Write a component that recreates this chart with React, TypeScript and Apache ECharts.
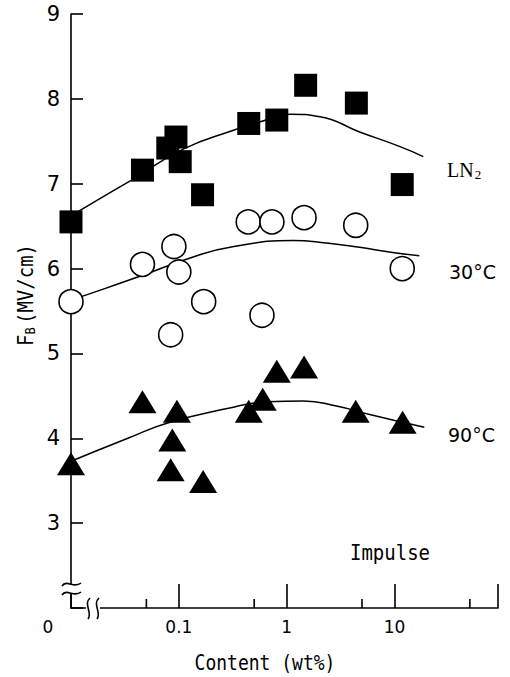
import React, { useEffect, useRef } from "react";
import * as echarts from "echarts";

// x values are content in wt% (0 is drawn on the broken part of the axis)
const ln2Content = [0, 0.046, 0.079, 0.094, 0.103, 0.166, 0.445, 0.81, 1.5, 4.43, 11.8];
const ln2Values = [6.55, 7.16, 7.42, 7.55, 7.26, 6.87, 7.71, 7.75, 8.16, 7.95, 6.99];

const c30Content = [0, 0.046, 0.084, 0.09, 0.1, 0.17, 0.44, 0.59, 0.73, 1.45, 4.37, 11.8];
const c30Values = [5.61, 6.05, 5.22, 6.26, 5.96, 5.61, 6.55, 5.45, 6.55, 6.6, 6.51, 6.0];

const c90Content = [0, 0.046, 0.084, 0.087, 0.096, 0.168, 0.445, 0.6, 0.81, 1.45, 4.37, 11.9];
const c90Values = [3.7, 4.43, 3.63, 3.98, 4.32, 3.49, 4.32, 4.46, 4.79, 4.84, 4.32, 4.19];

// fitted curves
const ln2FitContent = [0, 0.0139, 0.0361, 0.111, 0.321, 0.57, 1.08, 2.04, 4.75, 11.1, 18.5];
const ln2FitValues = [6.62, 6.73, 7.04, 7.41, 7.63, 7.73, 7.82, 7.79, 7.61, 7.44, 7.32];

const c30FitContent = [0, 0.0139, 0.0416, 0.138, 0.324, 1.15, 2.34, 4.75, 9.6, 17.0];
const c30FitValues = [5.63, 5.69, 5.9, 6.14, 6.26, 6.33, 6.3, 6.25, 6.19, 6.15];

const c90FitContent = [0, 0.0337, 0.0787, 0.281, 0.658, 1.43, 2.9, 5.89, 11.9, 18.9];
const c90FitValues = [3.73, 4.0, 4.18, 4.35, 4.43, 4.44, 4.38, 4.28, 4.19, 4.13];

const minorTicks = [0.05, 0.5, 5, 50];
const xTickLabels: Record<string, string> = { "-2": "{z|0}", "-1": "0.1", "0": "1", "1": "10" };

const toU = (c: number) => (c === 0 ? -2 : Math.log10(c));
const pairs = (xs: number[], ys: number[]) => xs.map((x, i) => [toU(x), ys[i]]);

export default function App() {
  const ref = useRef<HTMLDivElement>(null);
  useEffect(() => {
    document.body.style.margin = "0";
    const chart = echarts.init(ref.current!, null, { renderer: "svg" });
    const lineStyle = { color: "#000", width: 1.5 };
    const option: any = {
      animation: false,
      backgroundColor: "#fff",
      grid: { left: 71, top: 14, width: 427, height: 594 },
      xAxis: {
        type: "value",
        min: -2,
        max: 1.96,
        interval: 1,
        splitLine: { show: false },
        axisLine: { onZero: false, lineStyle: { color: "#000", width: 1.6 } },
        axisTick: { inside: true, length: 24, lineStyle: { color: "#000", width: 1.6 } },
        axisLabel: {
          color: "#000",
          fontFamily: "DejaVu Sans",
          fontSize: 17,
          margin: 10,
          formatter: (v: number) => xTickLabels[String(v)] ?? "",
          rich: { z: { fontFamily: "DejaVu Sans", fontSize: 17, color: "#000", padding: [0, 46, 0, 0] } },
        },
      },
      yAxis: {
        type: "value",
        min: 2,
        max: 9,
        interval: 1,
        splitLine: { show: false },
        axisLine: { onZero: false, lineStyle: { color: "#000", width: 1.6 } },
        axisTick: { inside: true, length: 12, lineStyle: { color: "#000", width: 1.6 } },
        axisLabel: {
          color: "#000",
          fontFamily: "DejaVu Sans",
          fontSize: 21,
          margin: 11,
          formatter: (v: number) => (v === 2 ? "" : String(v)),
        },
      },
      series: [
        { type: "line", data: pairs(ln2FitContent, ln2FitValues), smooth: true, showSymbol: false, lineStyle, z: 1 },
        { type: "line", data: pairs(c30FitContent, c30FitValues), smooth: true, showSymbol: false, lineStyle, z: 1 },
        { type: "line", data: pairs(c90FitContent, c90FitValues), smooth: true, showSymbol: false, lineStyle, z: 1 },
        {
          type: "scatter",
          data: pairs(ln2Content, ln2Values),
          symbol: "rect",
          symbolSize: 23,
          itemStyle: { color: "#000", opacity: 1 },
          z: 3,
        },
        {
          type: "scatter",
          data: pairs(c30Content, c30Values),
          symbol: "circle",
          symbolSize: 24,
          itemStyle: { color: "#fff", borderColor: "#000", borderWidth: 1.6, opacity: 1 },
          z: 3,
        },
        {
          type: "scatter",
          data: pairs(c90Content, c90Values),
          symbol: "triangle",
          symbolSize: [28, 23],
          itemStyle: { color: "#000", opacity: 1 },
          z: 3,
        },
        {
          type: "custom",
          data: minorTicks.map((m) => [Math.log10(m), 2]),
          clip: false,
          z: 2,
          renderItem: (_p: any, api: any) => {
            const p = api.coord([api.value(0), api.value(1)]);
            return {
              type: "line",
              shape: { x1: p[0], y1: p[1], x2: p[0], y2: p[1] - 9 },
              style: { stroke: "#000", lineWidth: 1.6 },
            };
          },
        },
      ],
    };
    chart.setOption(option);
    const o = chart.convertToPixel({ gridIndex: 0 }, [-2, 2]) as number[];
    const ox = o[0];
    const oy = o[1];
    const stroke = { stroke: "#000", lineWidth: 1.6, fill: null };
    chart.setOption({
      graphic: [
        // cover gaps for axis breaks
        { type: "rect", shape: { x: ox - 5, y: oy - 23, width: 10, height: 8 }, style: { fill: "#fff" }, z: 50 },
        { type: "rect", shape: { x: ox + 15, y: oy - 5, width: 14, height: 10 }, style: { fill: "#fff" }, z: 50 },
        {
          type: "bezierCurve",
          shape: { x1: ox - 9, y1: oy - 22, cpx1: ox - 4, cpy1: oy - 29, cpx2: ox + 3, cpy2: oy - 19, x2: ox + 10, y2: oy - 25 },
          style: stroke,
          z: 51,
        },
        {
          type: "bezierCurve",
          shape: { x1: ox - 9, y1: oy - 13, cpx1: ox - 4, cpy1: oy - 20, cpx2: ox + 3, cpy2: oy - 10, x2: ox + 10, y2: oy - 16 },
          style: stroke,
          z: 51,
        },
        {
          type: "bezierCurve",
          shape: { x1: ox + 19, y1: oy - 10, cpx1: ox + 12, cpy1: oy - 4, cpx2: ox + 22, cpy2: oy + 5, x2: ox + 17, y2: oy + 11 },
          style: stroke,
          z: 51,
        },
        {
          type: "bezierCurve",
          shape: { x1: ox + 28, y1: oy - 10, cpx1: ox + 21, cpy1: oy - 4, cpx2: ox + 31, cpy2: oy + 5, x2: ox + 26, y2: oy + 11 },
          style: stroke,
          z: 51,
        },
        {
          type: "text",
          x: 447,
          y: 170,
          style: {
            text: "{a|LN}{b|2}",
            textVerticalAlign: "middle",
            rich: {
              a: { fontFamily: "Liberation Serif", fontSize: 20, fill: "#000" },
              b: { fontFamily: "Liberation Serif", fontSize: 13, fill: "#000", verticalAlign: "bottom", padding: [8, 0, 0, 1] },
            },
          },
          z: 60,
        },
        {
          type: "text",
          x: 449,
          y: 272,
          style: { text: "30°C", fontFamily: "DejaVu Sans", fontSize: 19, fill: "#000", textVerticalAlign: "middle" },
          z: 60,
        },
        {
          type: "text",
          x: 448,
          y: 435,
          style: { text: "90°C", fontFamily: "DejaVu Sans", fontSize: 19, fill: "#000", textVerticalAlign: "middle" },
          z: 60,
        },
        {
          type: "text",
          x: 350,
          y: 553,
          scaleY: 1.15,
          style: { text: "Impulse", fontFamily: "DejaVu Sans Mono", fontSize: 19, fill: "#000", textVerticalAlign: "middle" },
          z: 60,
        },
        {
          type: "text",
          x: 265,
          y: 663,
          scaleY: 1.2,
          style: {
            text: "Content (wt%)",
            fontFamily: "DejaVu Sans Mono",
            fontSize: 18,
            fill: "#000",
            textAlign: "center",
            textVerticalAlign: "middle",
          },
          z: 60,
        },
        {
          type: "text",
          x: 26,
          y: 295,
          rotation: Math.PI / 2,
          scaleY: 1.15,
          style: {
            text: "{a|F}{b|B} {a|(MV/cm)}",
            textAlign: "center",
            textVerticalAlign: "middle",
            rich: {
              a: { fontFamily: "DejaVu Sans Mono", fontSize: 19, fill: "#000" },
              b: { fontFamily: "DejaVu Sans Mono", fontSize: 12, fill: "#000", verticalAlign: "bottom", padding: [6, 0, 0, 0] },
            },
          },
          z: 60,
        },
      ],
    });
    return () => chart.dispose();
  }, []);
  return <div ref={ref} style={{ width: 510, height: 677 }} />;
}
